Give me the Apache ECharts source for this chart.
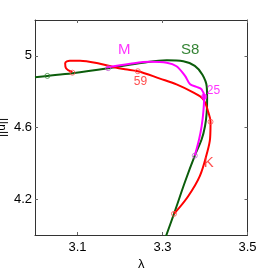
<!DOCTYPE html>
<html><head><meta charset="utf-8">
<script src="https://cdn.jsdelivr.net/npm/echarts@6/dist/echarts.min.js"></script>
<style>html,body{margin:0;padding:0;background:#fff}#c{width:273px;height:273px}</style>
</head><body><div id="c"></div>
<script>
// tick labels
const xTicks = [3.1, 3.3, 3.5];
const yTicks = [4.2, 4.6, 5.0];
// curves: [lambda, ||u||]
const s8Curve = [[3.000,4.881],[3.029,4.888],[3.088,4.903],[3.172,4.931],[3.254,4.962],[3.310,4.976],[3.349,4.970],[3.376,4.944],[3.394,4.895],[3.404,4.830],[3.405,4.757],[3.404,4.683],[3.400,4.607],[3.392,4.533],[3.376,4.443],[3.353,4.297],[3.327,4.118],[3.304,3.966]];
const mCurve = [[3.168,4.935],[3.224,4.956],[3.271,4.967],[3.310,4.962],[3.333,4.942],[3.353,4.888],[3.365,4.841],[3.380,4.827],[3.392,4.813],[3.398,4.772],[3.396,4.684],[3.392,4.606],[3.386,4.533],[3.376,4.443]];
const kCurve = [[3.088,4.909],[3.073,4.931],[3.071,4.959],[3.082,4.973],[3.106,4.973],[3.153,4.956],[3.184,4.938],[3.212,4.925],[3.242,4.914],[3.294,4.873],[3.333,4.841],[3.372,4.796],[3.396,4.757],[3.408,4.683],[3.413,4.632],[3.412,4.540],[3.405,4.460],[3.388,4.330],[3.360,4.215],[3.327,4.118]];
// markers
const s8Marks = [[3.029,4.888]];
const mMarks = [[3.172,4.931],[3.376,4.443]];
const mDot = [[3.398,4.772]];
const kMarks = [[3.088,4.906],[3.242,4.914],[3.413,4.632],[3.327,4.118]];
// text labels: [lambda, value, text, color]
const labels = [[3.210,5.035,'M','#ff00ff'],[3.365,5.035,'S8','#006400'],[3.248,4.853,'59','#ff2020'],[3.420,4.806,'25','#ff00ff'],[3.409,4.402,'K','#ff2020']];

const GREEN = '#0b5d0b', MAG = '#ff00ff', RED = '#ff0000';
const axisLineStyle = {color:'#333', width:1};
const chart = echarts.init(document.getElementById('c'), null, {renderer:'canvas'});
const hidden = {show:false};
chart.setOption({
  animation:false,
  grid:{left:35, right:25.5, top:20, bottom:38, containLabel:false, outerBoundsMode:'none'},
  xAxis:[
    {type:'value', min:3.0, max:3.5, position:'bottom',
     axisLine:{show:true, onZero:false, lineStyle:axisLineStyle},
     axisTick:{show:true, inside:true, length:3, customValues:xTicks, lineStyle:{color:'#666'}},
     axisLabel:{customValues:xTicks, color:'#000', fontSize:13, margin:6, fontFamily:'Liberation Sans', formatter:v=>v.toFixed(1)},
     splitLine:hidden,
     name:'λ', nameLocation:'middle', nameGap:23, nameMoveOverlap:false, nameTextStyle:{fontSize:13, color:'#000', fontFamily:'Liberation Sans'}},
    {type:'value', min:3.0, max:3.5, position:'top',
     axisLine:{show:true, onZero:false, lineStyle:axisLineStyle},
     axisTick:{show:true, inside:true, length:3, customValues:xTicks, lineStyle:{color:'#666'}},
     axisLabel:hidden, splitLine:hidden}
  ],
  yAxis:[
    {type:'value', min:4.0, max:5.2, position:'left',
     axisLine:{show:true, onZero:false, lineStyle:axisLineStyle},
     axisTick:{show:true, inside:true, length:3, customValues:yTicks, lineStyle:{color:'#666'}},
     axisLabel:{customValues:yTicks, color:'#000', fontSize:13, margin:3, fontFamily:'Liberation Sans', formatter:v=>(Math.abs(v-5)<1e-9?'5':v.toFixed(1))},
     splitLine:hidden,
     name:'||u||', nameLocation:'middle', nameGap:27, nameMoveOverlap:false, nameRotate:90, nameTextStyle:{fontSize:12, color:'#000', fontFamily:'Liberation Sans'}},
    {type:'value', min:4.0, max:5.2, position:'right',
     axisLine:{show:true, onZero:false, lineStyle:axisLineStyle},
     axisTick:{show:true, inside:true, length:3, customValues:yTicks, lineStyle:{color:'#666'}},
     axisLabel:hidden, splitLine:hidden}
  ],
  series:[
    {type:'line', data:s8Curve, smooth:0.35, symbol:'none', clip:true, lineStyle:{color:GREEN, width:2}, z:2},
    {type:'line', data:kCurve, smooth:0.35, symbol:'none', clip:true, lineStyle:{color:RED, width:2}, z:3},
    {type:'line', data:mCurve, smooth:0.35, symbol:'none', clip:true, lineStyle:{color:MAG, width:2}, z:4},
    {type:'scatter', data:s8Marks, symbol:'circle', symbolSize:5, itemStyle:{color:'rgba(0,0,0,0)', borderColor:'#3a8a3a', borderWidth:1}, z:5},
    {type:'scatter', data:mMarks, symbol:'circle', symbolSize:5, itemStyle:{color:'rgba(0,0,0,0)', borderColor:'#c060d0', borderWidth:1}, z:5},
    {type:'scatter', data:kMarks, symbol:'circle', symbolSize:5, itemStyle:{color:'rgba(0,0,0,0)', borderColor:'#ff5050', borderWidth:1}, z:5},
    {type:'scatter', data:mDot, symbol:'circle', symbolSize:6, itemStyle:{color:MAG}, z:6},
    {type:'scatter', data:labels.map(l=>({value:[l[0],l[1]], label:{show:true, formatter:l[2], color:l[3], fontSize:l[2].length>1&&l[2]!=='S8'?12:15, fontFamily:'Liberation Sans', position:'inside'}})), symbolSize:0, z:7}
  ]
});
</script></body></html>
